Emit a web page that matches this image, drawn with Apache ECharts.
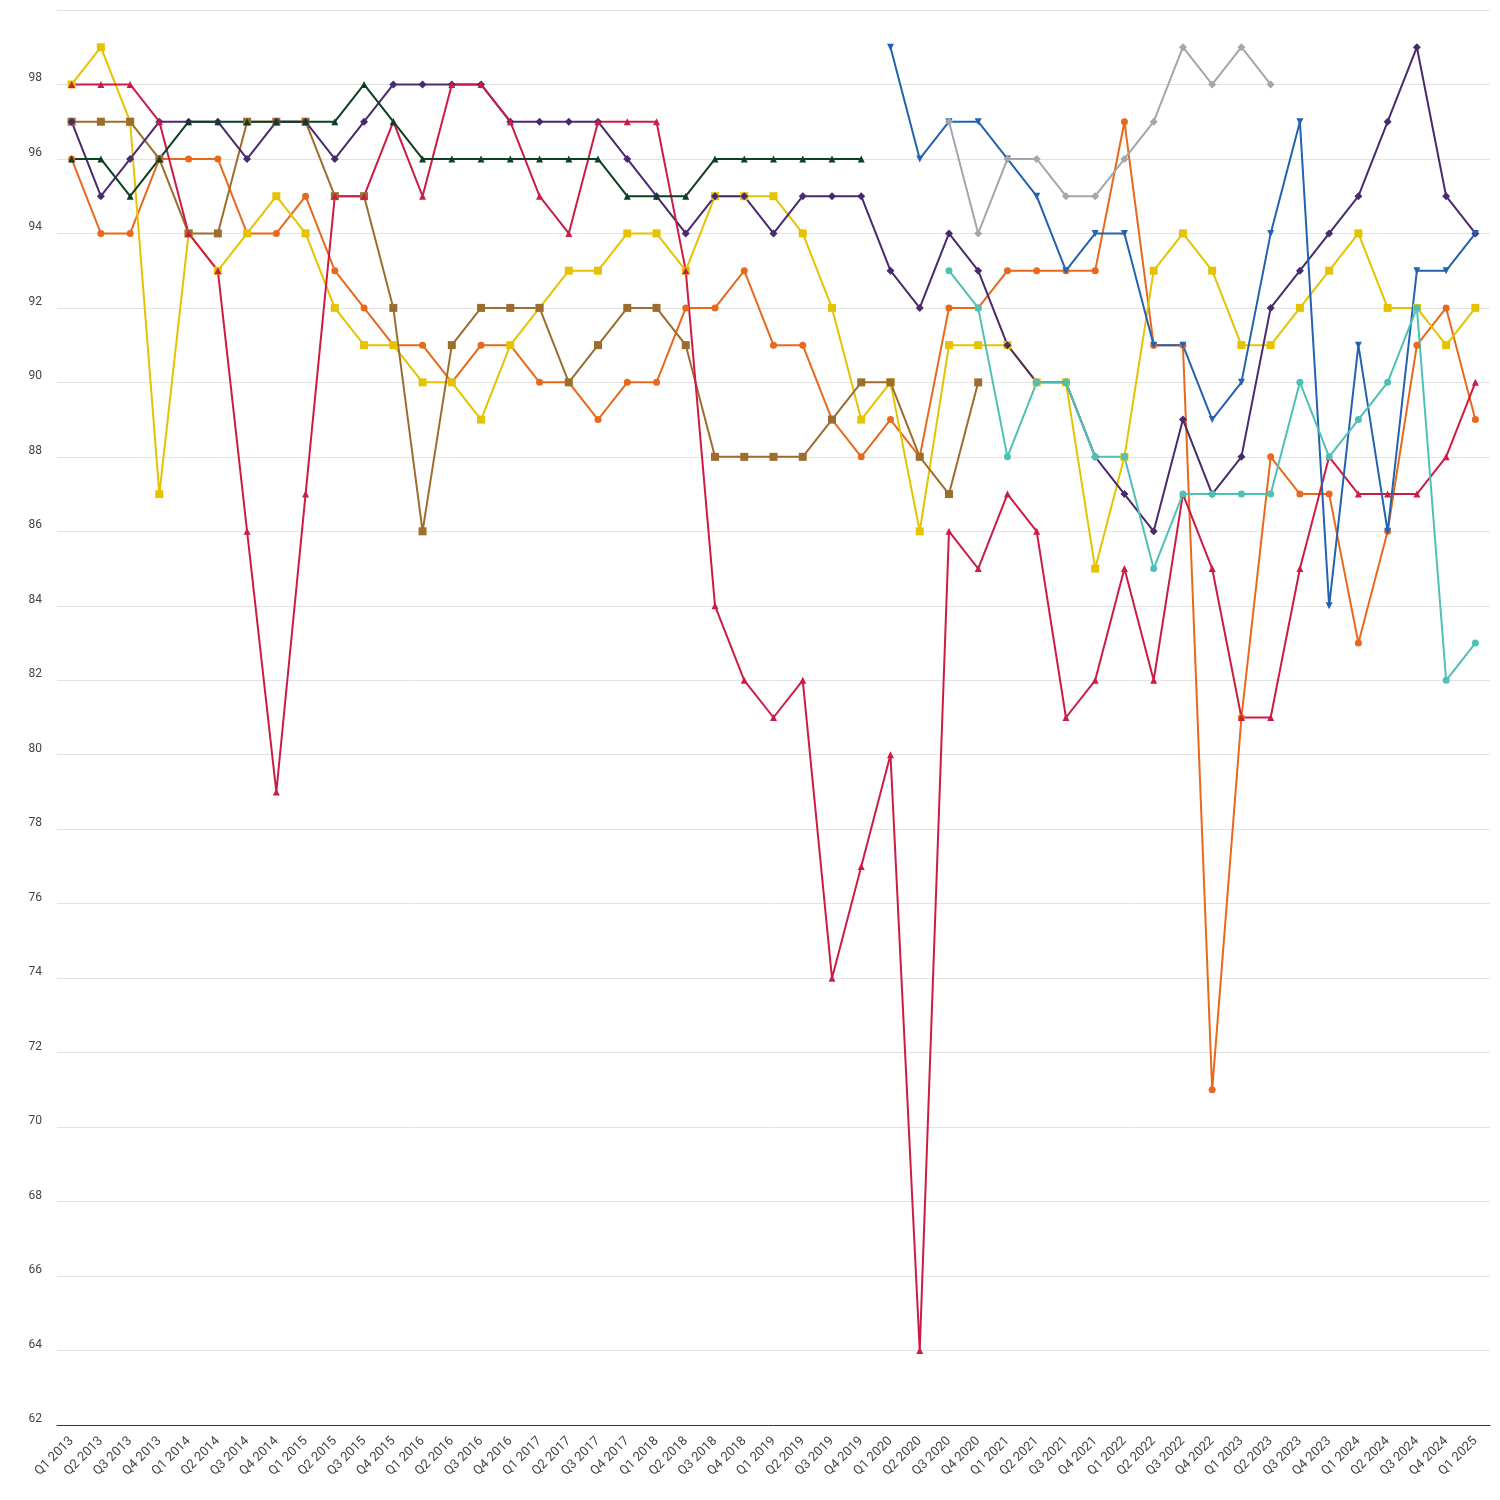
<!DOCTYPE html>
<html>
<head>
<meta charset="utf-8">
<script src="https://cdn.jsdelivr.net/npm/echarts@6/dist/echarts.min.js"></script>
<style>
  html, body { margin: 0; padding: 0; background: #fff; }
  #chart { width: 1500px; height: 1500px; }
</style>
</head>
<body>
<div id="chart"></div>
<script>
// quarters Q1 2013 .. Q1 2025
const quarters = [];
for (let y = 2013; y <= 2025; y++) {
  for (let q = 1; q <= 4; q++) {
    if (y === 2025 && q > 1) break;
    quarters.push('Q' + q + ' ' + y);
  }
}

const yTicks = [62, 64, 66, 68, 70, 72, 74, 76, 78, 80, 82, 84, 86, 88, 90, 92, 94, 96, 98, 100];

// series values, one per quarter (null = no data)
const purple = [97,95,96,97, 97,97,96,97, 97,96,97,98, 98,98,98,97, 97,97,97,96, 95,94,95,95,
  94,95,95,95, 93,92,94,93, 91,90,90,88, 87,86,89,87, 88,92,93,94, 95,97,99,95, 94];
const red = [98,98,98,97, 94,93,86,79, 87,95,95,97, 95,98,98,97, 95,94,97,97, 97,93,84,82,
  81,82,74,77, 80,64,86,85, 87,86,81,82, 85,82,87,85, 81,81,85,88, 87,87,87,88, 90];
const green = [96,96,95,96, 97,97,97,97, 97,97,98,97, 96,96,96,96, 96,96,96,95, 95,95,96,96,
  96,96,96,96, null,null,null,null, null,null,null,null, null,null,null,null, null,null,null,null, null,null,null,null, null];
const orange = [96,94,94,96, 96,96,94,94, 95,93,92,91, 91,90,91,91, 90,90,89,90, 90,92,92,93,
  91,91,89,88, 89,88,92,92, 93,93,93,93, 97,91,91,71, 81,88,87,87, 83,86,91,92, 89];
const yellow = [98,99,97,87, 94,93,94,95, 94,92,91,91, 90,90,89,91, 92,93,93,94, 94,93,95,95,
  95,94,92,89, 90,86,91,91, 91,90,90,85, 88,93,94,93, 91,91,92,93, 94,92,92,91, 92];
const brown = [97,97,97,96, 94,94,97,97, 97,95,95,92, 86,91,92,92, 92,90,91,92, 92,91,88,88,
  88,88,89,90, 90,88,87,90, null,null,null,null, null,null,null,null, null,null,null,null, null,null,null,null, null];
const blue = [null,null,null,null, null,null,null,null, null,null,null,null, null,null,null,null, null,null,null,null, null,null,null,null,
  null,null,null,null, 99,96,97,97, 96,95,93,94, 94,91,91,89, 90,94,97,84, 91,86,93,93, 94];
const gray = [null,null,null,null, null,null,null,null, null,null,null,null, null,null,null,null, null,null,null,null, null,null,null,null,
  null,null,null,null, null,null,97,94, 96,96,95,95, 96,97,99,98, 99,98,null,null, null,null,null,null, null];
const teal = [null,null,null,null, null,null,null,null, null,null,null,null, null,null,null,null, null,null,null,null, null,null,null,null,
  null,null,null,null, null,null,93,92, 88,90,90,88, 88,85,87,87, 87,87,90,88, 89,90,92,82, 83];

function line(data, color, symbol, size, rotate) {
  return {
    type: 'line',
    data: data,
    symbol: symbol,
    symbolSize: size,
    symbolRotate: rotate || 0,
    showAllSymbol: true,
    lineStyle: { color: color, width: 2 },
    itemStyle: { color: color },
    emphasis: { disabled: true },
    animation: false
  };
}

const chart = echarts.init(document.getElementById('chart'));
chart.setOption({
  backgroundColor: '#fff',
  textStyle: { fontFamily: 'Roboto, sans-serif' },
  grid: { left: 57, right: 10, top: 10, bottom: 75, containLabel: false },
  xAxis: {
    type: 'category',
    data: quarters,
    boundaryGap: true,
    axisLine: { lineStyle: { color: '#333', width: 1 } },
    axisTick: { show: false },
    axisLabel: { interval: 0, rotate: 45, fontSize: 13, color: '#444', margin: 14 }
  },
  yAxis: {
    type: 'value',
    min: yTicks[0],
    max: yTicks[yTicks.length - 1],
    interval: 2,
    axisLine: { show: false },
    axisTick: { show: false },
    splitLine: { lineStyle: { color: '#e3e3e3', width: 1 } },
    axisLabel: {
      showMaxLabel: false,
      fontSize: 12,
      color: '#444',
      margin: 15,
      verticalAlign: 'bottom',
      lineHeight: 12
    }
  },
  series: [
    line(orange, '#E8691D', 'circle', 7),
    line(yellow, '#E5C300', 'rect', 8),
    line(brown, '#9C6D2C', 'rect', 8),
    line(purple, '#4A2A6E', 'diamond', 8),
    line(red, '#CC1C45', 'triangle', 7),
    line(green, '#0D3F22', 'triangle', 7),
    line(blue, '#2262B0', 'triangle', 7, 180),
    line(gray, '#A2A7AB', 'diamond', 8),
    line(teal, '#4FC1B4', 'circle', 7)
  ]
});
</script>
</body>
</html>
